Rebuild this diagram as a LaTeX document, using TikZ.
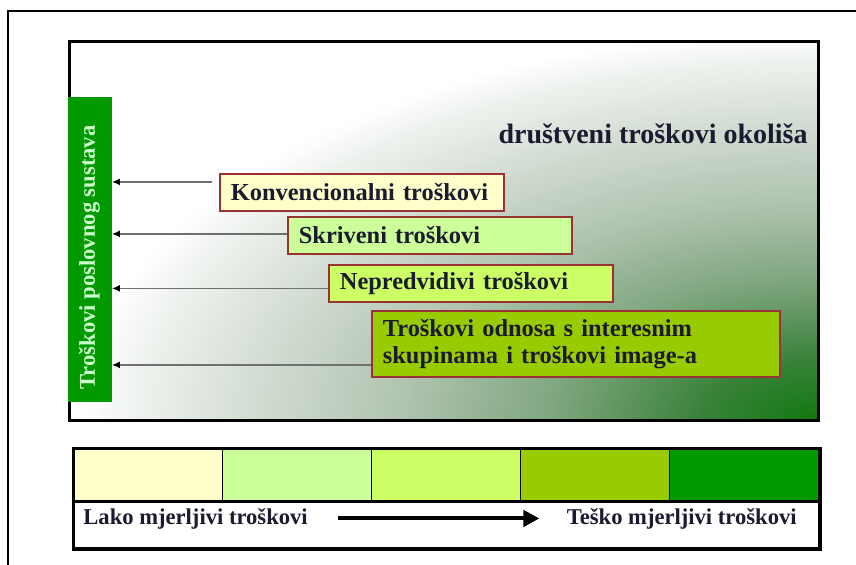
\documentclass[tikz,border=0pt]{standalone}
\usepackage{fontspec}
\setmainfont{Liberation Serif}
\usepackage{tikz}
\usetikzlibrary{positioning}
\usetikzlibrary{arrows.meta}
\usetikzlibrary{calc}
\definecolor{paleyellow}{HTML}{FFFFCC}
\definecolor{palegreen}{HTML}{CCFF99}
\definecolor{limegreen}{HTML}{CCFF66}
\definecolor{olivegreen}{HTML}{99CC00}
\definecolor{deepgreen}{HTML}{009900}
\definecolor{boxred}{HTML}{993333}
\definecolor{bartext}{HTML}{CCFFCC}
\definecolor{inktext}{HTML}{1A1A30}
\definecolor{linegray}{HTML}{707070}
\definecolor{envdark}{HTML}{107810}
\definecolor{envmid}{HTML}{3A823A}
\definecolor{envsoft}{HTML}{7FA67F}
\definecolor{envpale}{HTML}{AFC3AF}
\definecolor{envmist}{HTML}{D2DCD2}
\definecolor{envhaze}{HTML}{EEF2EE}
\pgfdeclareradialshading{envglow}{\pgfpoint{0bp}{0bp}}{color(0bp)=(envdark); color(4bp)=(envmid); color(9bp)=(envsoft); color(14bp)=(envpale); color(19bp)=(envmist); color(23bp)=(envhaze); color(25bp)=(white); color(50bp)=(white)}
\tikzset{cost box/.style={draw=boxred, line width=0.9pt, anchor=north west, align=left, inner xsep=5.5pt, inner ysep=0pt, minimum height=18.5pt, text=inktext, font=\fontsize{12.2}{13.2}\selectfont\bfseries},
  cost arrow/.style={draw=linegray, line width=0.9pt, -{Latex[length=4pt,width=3.5pt,color=black]}},
  side bar/.style={fill=deepgreen, rotate=90, minimum width=152.5pt, minimum height=22pt, inner sep=0pt},
  bar label/.style={rotate=90, inner sep=0pt, text=bartext, font=\fontsize{11.3}{12}\selectfont\bfseries},
  band cell/.style={draw=black, line width=0.7pt, anchor=north west, minimum width=74.5pt, minimum height=26pt, inner sep=0pt},
  band row/.style={draw=black, line width=1pt, anchor=north west, minimum width=372.5pt, minimum height=23pt, inner sep=0pt},
  band text/.style={inner sep=0pt, text=inktext, font=\fontsize{11.3}{12}\selectfont\bfseries},
  band arrow/.style={line width=2pt, -{Triangle[length=8pt,width=8pt]}}}
\begin{document}
\begin{tikzpicture}[x=0.5pt, y=-0.5pt]
  \useasboundingbox (0,0) rectangle (856,564);
  % page frame
  \draw[line width=1pt] (7.5,580) -- (7.5,11) -- (870,11);
  % upper field with shading
  \coordinate (fieldnw) at (69.5,41);
  \coordinate (fieldse) at (818,420);
  \begin{scope}
    \clip (fieldnw) rectangle (fieldse);
    \shade[shading=envglow] (fieldse) ellipse [x radius=740, y radius=390];
  \end{scope}
  \draw[line width=1.5pt] (fieldnw) rectangle (fieldse);

  \node[side bar] (bar) at (89.5,249.5) {};
  \node[bar label] (barname) at (89.5,257.5) {Troškovi poslovnog sustava};
  \node[anchor=base east, inner sep=0pt, text=inktext, font=\fontsize{14}{15}\selectfont\bfseries] (env) at (808,143) {društveni troškovi okoliša};

  \node[cost box, fill=paleyellow, text width=131pt] (kon) at (219,173) {Konvencionalni troškovi};
  \node[cost box, fill=palegreen, text width=131pt] (skr) at (287,216) {Skriveni troškovi};
  \node[cost box, fill=limegreen, text width=131pt] (nep) at (328,264) {Nepredvidivi troškovi};
  \node[cost box, fill=olivegreen, text width=193pt, minimum height=33pt] (tro) at (371,310) {Troškovi odnosa s interesnim\\skupinama i troškovi image-a};

  \foreach \src/\off/\gap in {kon/-10.5/3.5pt, skr/-1.5/0pt, nep/5/0pt, tro/21/0pt}
    \draw[cost arrow, shorten <=\gap] ($(\src.west)+(0,\off)$) coordinate (start) -- (start -| bar.south);

  % measurability band
  \foreach \c [count=\i from 0] in {paleyellow,palegreen,limegreen,olivegreen,deepgreen}
    \node[band cell, fill=\c] (cell\i) at ({73+149*\i},448) {};
  \node[band row] (row) at (cell0.south west) {};
  \draw[line width=1.5pt] (cell0.north west) rectangle (row.south east);
  \node[band text, anchor=base west] (easy) at (83,524) {Lako mjerljivi troškovi};
  \node[band text, anchor=base east] (hard) at (797,524) {Teško mjerljivi troškovi};
  \draw[band arrow] ([xshift=15pt]easy.east) -- ([xshift=-13.5pt]hard.west);
\end{tikzpicture}
\end{document}
